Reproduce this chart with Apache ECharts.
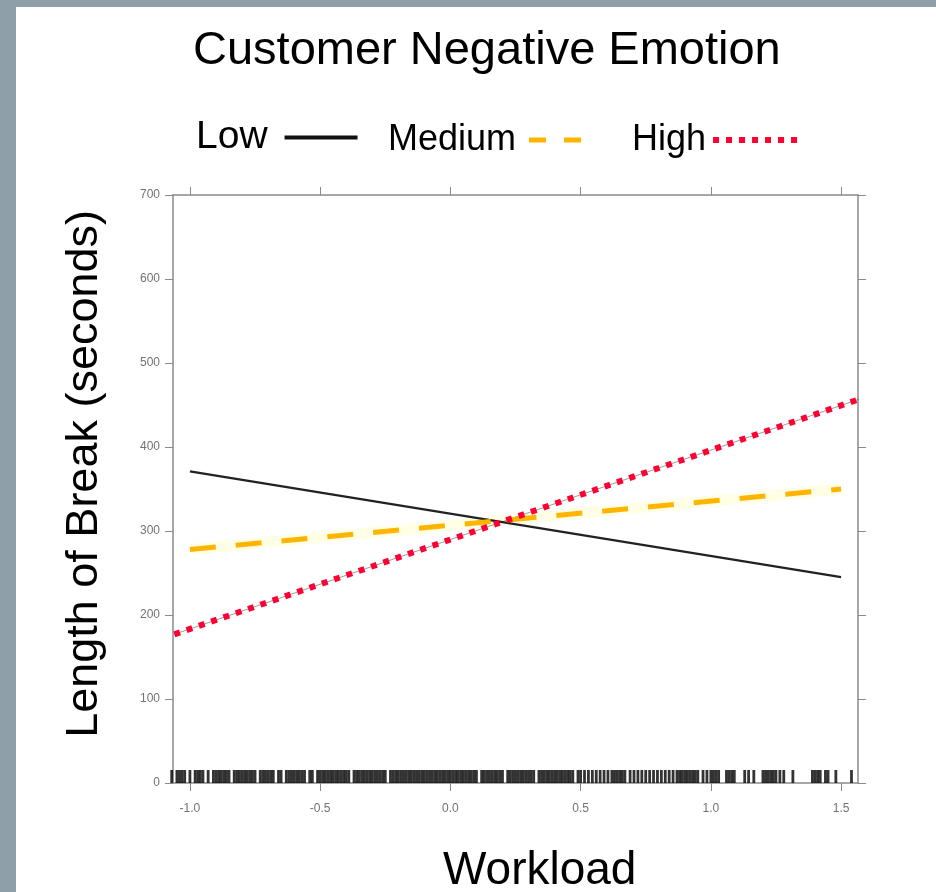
<!DOCTYPE html>
<html>
<head>
<meta charset="utf-8">
<title>Customer Negative Emotion</title>
<script src="https://cdn.jsdelivr.net/npm/echarts@6/dist/echarts.min.js"></script>
<style>
  html, body { margin: 0; padding: 0; background: #8e9fa9; }
  #chart { width: 936px; height: 892px; }
</style>
</head>
<body>
<div id="chart"></div>
<script>
// Simple slopes of break length on workload, by level of customer negative emotion
const workloadEnds = [-1.0, 1.5];
const lowBreak = [371, 245];
const mediumBreak = [278, 350];
const highWorkloadEnds = [-1.06, 1.58];
const highBreak = [177, 458];

// Axis ticks
const workloadTicks = [-1.0, -0.5, 0.0, 0.5, 1.0, 1.5];
const breakTicks = [0, 100, 200, 300, 400, 500, 600, 700];

// Observed workload values (rug along the bottom axis)
const workloadObserved = [
  -1.07, -1.05, -1.04, -1.03, -1.02, -1.00, -0.98, -0.97, -0.96, -0.95,
  -0.93, -0.91, -0.90, -0.89, -0.88, -0.87, -0.86, -0.85,
  -0.83, -0.82, -0.81, -0.80, -0.79, -0.78, -0.77, -0.76, -0.75, -0.73,
  -0.72, -0.71, -0.70, -0.69, -0.68, -0.66, -0.65, -0.63, -0.62, -0.61,
  -0.60, -0.59, -0.58, -0.57, -0.56, -0.54, -0.53, -0.51, -0.50, -0.49,
  -0.48, -0.47, -0.46, -0.45, -0.44, -0.43, -0.42, -0.41, -0.40, -0.39,
  -0.37, -0.36, -0.35, -0.34, -0.33, -0.32, -0.31, -0.30, -0.29, -0.28,
  -0.27, -0.26, -0.25, -0.23, -0.22, -0.21, -0.20, -0.19, -0.18, -0.17,
  -0.16, -0.15, -0.14, -0.13, -0.12, -0.11, -0.10, -0.09, -0.08, -0.07,
  -0.06, -0.05, -0.04, -0.03, -0.02, -0.01, 0.00, 0.01, 0.02, 0.03,
  0.04, 0.05, 0.06, 0.07, 0.08, 0.09, 0.10, 0.12, 0.13, 0.14,
  0.15, 0.16, 0.17, 0.18, 0.19, 0.20, 0.22, 0.23, 0.24, 0.25,
  0.26, 0.27, 0.28, 0.29, 0.30, 0.31, 0.32, 0.34, 0.35, 0.36,
  0.37, 0.38, 0.39, 0.40, 0.41, 0.42, 0.43, 0.44, 0.45, 0.46,
  0.47, 0.49, 0.50, 0.515, 0.53, 0.545, 0.56, 0.575, 0.59, 0.605,
  0.62, 0.63, 0.64, 0.65, 0.66, 0.67, 0.69, 0.705, 0.72, 0.735,
  0.75, 0.765, 0.78, 0.795, 0.81, 0.825, 0.84, 0.855, 0.87, 0.88,
  0.89, 0.90, 0.91, 0.92, 0.93, 0.94, 0.95, 0.97, 0.985, 1.00,
  1.01, 1.02, 1.03, 1.06, 1.07, 1.08, 1.09, 1.13, 1.145, 1.165,
  1.20, 1.21, 1.22, 1.23, 1.24, 1.25, 1.265, 1.28, 1.315, 1.39,
  1.40, 1.41, 1.42, 1.44, 1.45, 1.48, 1.54
];

const pairs = (xs, ys) => xs.map((x, i) => [x, ys[i]]);

const axisGray = '#8a8a8a';
const labelGray = '#727272';
const FONT = 'Liberation Sans, Arial, sans-serif';
const noMarker = { color: 'transparent', borderColor: 'transparent', borderWidth: 0, opacity: 0 };

const chart = echarts.init(document.getElementById('chart'), null, { renderer: 'canvas' });

const xAxisBase = {
  type: 'value',
  min: -1.065,
  max: 1.565,
  splitLine: { show: false },
  axisLine: { show: true, onZero: false, lineStyle: { color: axisGray, width: 1.5 } },
  axisTick: { show: true, length: 8, inside: false, customValues: workloadTicks, lineStyle: { color: axisGray, width: 1 } }
};

const yAxisBase = {
  type: 'value',
  min: 0,
  max: 700,
  interval: 100,
  splitLine: { show: false },
  axisLine: { show: true, onZero: false, lineStyle: { color: axisGray, width: 1.5 } },
  axisTick: { show: true, length: 8, inside: false, customValues: breakTicks, lineStyle: { color: axisGray, width: 1 } }
};

chart.setOption({
  backgroundColor: '#8e9fa9',
  animation: false,
  graphic: [
    { type: 'rect', z: -10, shape: { x: 16, y: 7, width: 930, height: 890 }, style: { fill: '#ffffff' } },
    {
      type: 'text', left: 62, top: 210, rotation: Math.PI / 2,
      style: { text: 'Length of Break (seconds)', font: '45px ' + FONT, fill: '#000' }
    },
    {
      type: 'text', left: 443, top: 848,
      style: { text: 'Workload', font: '46px ' + FONT, fill: '#000' }
    }
  ],
  title: {
    text: 'Customer Negative Emotion',
    left: 193,
    top: 28,
    padding: 0,
    textStyle: { fontFamily: FONT, fontSize: 47, fontWeight: 'normal', color: '#000' }
  },
  legend: [
    {
      data: [{ name: 'Low', itemStyle: noMarker, lineStyle: { width: 4, color: '#111' } }],
      left: 196, top: 118, align: 'right', padding: 0,
      itemWidth: 73, itemHeight: 24,
      textStyle: { fontFamily: FONT, fontSize: 39, color: '#000', padding: [0, 12, 0, 0] }
    },
    {
      data: [{ name: 'Medium', itemStyle: noMarker, lineStyle: { type: [17, 18], width: 5, color: '#FFB400' } }],
      left: 388, top: 122, align: 'right', padding: 0,
      itemWidth: 52, itemHeight: 24,
      textStyle: { fontFamily: FONT, fontSize: 36, color: '#000', padding: [0, 8, 0, 0] }
    },
    {
      data: [{ name: 'High', itemStyle: noMarker, lineStyle: { type: [6, 7], width: 6, color: '#FF0033' } }],
      left: 632, top: 122, align: 'right', padding: 0,
      itemWidth: 88, itemHeight: 24,
      textStyle: { fontFamily: FONT, fontSize: 36, color: '#000', padding: [0, 2, 0, 0] }
    }
  ],
  grid: { left: 173, top: 195, right: 78, bottom: 109, containLabel: false },
  xAxis: [
    Object.assign({}, xAxisBase, {
      position: 'bottom',
      axisLabel: {
        show: true, margin: 20, customValues: workloadTicks,
        color: labelGray, fontFamily: FONT, fontSize: 12,
        formatter: v => v.toFixed(1)
      }
    }),
    Object.assign({}, xAxisBase, { position: 'top', axisLabel: { show: false } })
  ],
  yAxis: [
    Object.assign({}, yAxisBase, {
      position: 'left',
      axisLabel: { show: true, margin: 13, color: labelGray, fontFamily: FONT, fontSize: 12 }
    }),
    Object.assign({}, yAxisBase, { position: 'right', axisLabel: { show: false } })
  ],
  series: [
    {
      name: 'Workload rug', type: 'scatter', silent: true, clip: false,
      symbol: 'rect', symbolSize: [2.8, 13], symbolOffset: [0, -6.5],
      itemStyle: { color: '#000' },
      data: workloadObserved.map(v => [v, 0])
    },
    {
      name: 'Medium glow', type: 'line', silent: true, symbol: 'none',
      lineStyle: { color: 'rgba(255,255,170,0.3)', width: 11 },
      data: pairs(workloadEnds, mediumBreak)
    },
    {
      name: 'High trace', type: 'line', silent: true, symbol: 'none', clip: false,
      lineStyle: { color: 'rgba(90,90,90,0.6)', width: 1 },
      data: pairs(highWorkloadEnds, highBreak)
    },
    {
      name: 'Low', type: 'line', symbol: 'none', showSymbol: false,
      lineStyle: { color: '#222', width: 2.2 },
      itemStyle: { color: '#222' },
      data: pairs(workloadEnds, lowBreak)
    },
    {
      name: 'Medium', type: 'line', symbol: 'none', showSymbol: false,
      lineStyle: { color: '#FFB400', width: 5, type: [26, 20], cap: 'butt' },
      itemStyle: { color: '#FFB400' },
      data: pairs(workloadEnds, mediumBreak)
    },
    {
      name: 'High', type: 'line', symbol: 'none', showSymbol: false, clip: false,
      lineStyle: { color: '#FF0033', width: 6, type: [6, 7], cap: 'butt' },
      itemStyle: { color: '#FF0033' },
      data: pairs(highWorkloadEnds, highBreak)
    }
  ]
});
</script>
</body>
</html>
